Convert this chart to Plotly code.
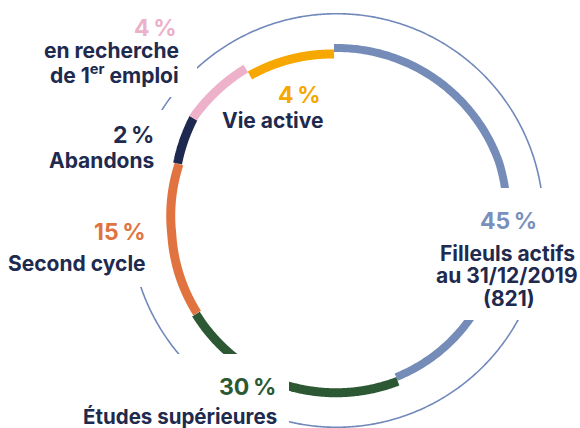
import numpy as np
import plotly.graph_objects as go

W, H = 580, 428

# ---- data -------------------------------------------------------------
categories = ["Filleuls actifs", "Études supérieures", "Second cycle",
              "Abandons", "en recherche de 1er emploi", "Vie active"]
shares = [45, 30, 15, 2, 4, 4]
pct_labels = [f"{v}\u2009%" for v in shares]
# angular boundaries of the arcs as drawn (deg, clockwise from 12 o'clock)
arc_bounds = [-0.9, 159.2, 236.4, 289.7, 305.5, 329.1, 359.1]

# ---- styles -----------------------------------------------------------
seg_colors = ["#768CB8", "#2C5834", "#E0733F", "#1E2950", "#EDB1C9", "#F6A800"]
pct_colors = ["#7A90BC", "#2C5834", "#E0733F", "#1F2A4F", "#EBB1C8", "#F5A800"]
TEXT = "#1F2A4F"
OUTER = "#7189BA"
# radius control points (theta, r) in px for each arc
radius_ctrl = [
    [(-0.9, 172.5), (70, 172.5), (125, 165.5), (159.2, 167.5)],
    [(159.2, 172.0), (200, 172.5), (236.4, 169.0)],
    [(236.4, 167.5), (265, 165.5), (289.7, 167.5)],
    [(289.7, 169.0), (305.5, 176.0)],
    [(305.5, 176.5), (329.1, 177.0)],
    [(329.1, 169.0), (359.1, 166.5)],
]
seg_width = [8, 9, 9, 9, 9, 9]
R_OUTER = 206.8
CX, CY = 336.7, 220.5          # ring centre (axis units = px, y downwards)


def polar_xy(r, theta_deg):
    t = np.radians(theta_deg)
    return CX + r * np.sin(t), CY - r * np.cos(t)


fig = go.Figure()

# outer thin circle
th = np.linspace(0, 360, 721)
ox, oy = polar_xy(np.full_like(th, R_OUTER), th)
fig.add_trace(go.Scatter(x=ox, y=oy, mode="lines",
                         line=dict(color=OUTER, width=1.6, simplify=False),
                         hoverinfo="skip"))

for i, cat in enumerate(categories):
    a0, a1 = arc_bounds[i], arc_bounds[i + 1]
    t = np.linspace(a0, a1, 240)
    cp = radius_ctrl[i]
    r = np.interp(t, [c[0] for c in cp], [c[1] for c in cp])
    x, y = polar_xy(r, t)
    fig.add_trace(go.Scatter(x=x, y=y, mode="lines", name=f"{cat} {shares[i]} %",
                             line=dict(color=seg_colors[i], width=seg_width[i], simplify=False),
                             hoverinfo="name"))

fig.update_layout(
    width=W, height=H, margin=dict(l=0, r=0, t=0, b=0),
    paper_bgcolor="white", plot_bgcolor="white", showlegend=False,
    xaxis=dict(range=[0, W], visible=False, fixedrange=True),
    yaxis=dict(range=[H, 0], visible=False, fixedrange=True),
)

# white knock-out boxes behind labels (x0, y0, x1, y1)
boxes = [(-5, -5, 197, 97), (-5, 110, 163, 287), (-5, 354, 289, 435), (430, 188, 585, 320)]
for x0, y0, x1, y1 in boxes:
    fig.add_shape(type="rect", xref="x", yref="y", layer="above",
                  x0=x0, x1=x1, y0=y0, y1=y1,
                  fillcolor="white", line=dict(width=0))

FONT = "Inter"


def ann(text, x, y, color, size, xanchor="right"):
    fig.add_annotation(text=text, x=x, y=y, xref="x", yref="y",
                       xanchor=xanchor, yanchor="middle", showarrow=False,
                       font=dict(family=FONT, size=size, color=color, weight=700))


P, L = 23, 21
# 45 %
ann(pct_labels[0], 508, 221, pct_colors[0], P, "center")
ann("Filleuls actifs", 507, 253, TEXT, L, "center")
ann("au 31/12/2019", 507, 275, TEXT, L, "center")
ann("(821)", 509, 298, TEXT, L, "center")
# 30 %
ann(pct_labels[1], 278, 387, pct_colors[1], P)
ann("Études supérieures", 279, 416, TEXT, 20.5)
# 15 %
ann(pct_labels[2], 148, 232, pct_colors[2], P)
ann("Second cycle", 148, 263, TEXT, L)
# 2 %
ann(pct_labels[3], 156, 135, pct_colors[3], P)
ann("Abandons", 156, 160, TEXT, L)
# 4 % recherche
ann(pct_labels[4], 179, 28, pct_colors[4], P)
ann("en recherche", 181, 50, TEXT, L)
ann("de 1<sup>er</sup> emploi", 181, 74, TEXT, L)
# 4 % vie active
ann(pct_labels[5], 323, 95, pct_colors[5], P)
ann("Vie active", 326, 120, TEXT, L)

fig.write_html("out.html", config={"displayModeBar": False},
               post_script="document.body.style.margin='0px';")
